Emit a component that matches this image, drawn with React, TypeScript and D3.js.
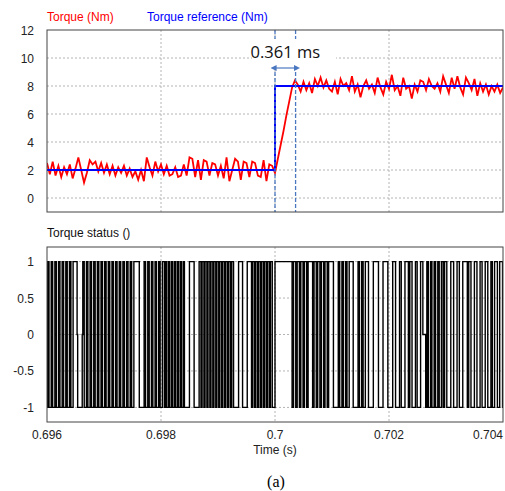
import React from 'react';
import * as d3 from 'd3';

const W = 505;
const H = 491;

// axes
const timeDomain = [0.696, 0.704];
const timeTicks = [0.696, 0.698, 0.7, 0.702, 0.704];
const timeGrid = [0.698, 0.7, 0.702];
const torqueDomain = [-1, 12];
const torqueTicks = [0, 2, 4, 6, 8, 10, 12];
const torqueGrid = [0, 2, 4, 6, 8, 10];
const statusDomain = [-1.2, 1.2];
const statusTicks = [-1, -0.5, 0, 0.5, 1];

// torque (Nm), sampled every 50 µs from 0.696 s
const torqueStartS = 0.696;
const torqueSampleUs = 50;
const torqueValues = [
  // 0.696 .. 0.69705
  2.5, 1.7, 2.6, 1.6, 2.3, 1.5, 2.2, 1.7, 2.4, 1.4, 2.1, 2.9, 2.0, 1.1, 1.8, 2.7, 2.4, 2.6, 1.9, 2.5, 1.8, 2.4,
  // 0.6971 .. 0.69795
  1.7, 2.3, 1.6, 2.2, 1.8, 2.3, 1.6, 2.1, 1.5, 1.9, 1.3, 2.0, 1.2, 2.9, 2.2, 1.6, 2.6, 1.9,
  // 0.698 .. 0.69895
  2.4, 1.7, 2.3, 1.6, 1.7, 2.2, 1.5, 1.6, 2.4, 1.6, 2.9, 2.8, 1.5, 2.7, 1.3, 2.7, 2.6, 1.6, 2.5, 2.4,
  // 0.699 .. 0.69995
  1.6, 2.3, 1.4, 2.9, 1.2, 2.0, 2.8, 2.6, 1.3, 2.6, 2.5, 1.5, 2.6, 2.5, 1.6, 1.5, 2.7, 1.2, 2.4, 2.3,
  // 0.7 .. 0.70035 (rise)
  1.8, 2.8, 3.8, 4.8, 5.9, 6.9, 7.9, 8.4,
  // 0.7004 .. 0.704
  8.1, 7.6, 8.3, 7.7, 8.2, 7.5, 8.5, 8.0, 8.6, 7.9,
  8.4, 7.8, 7.6, 8.3, 7.4, 8.5, 8.0, 8.2, 7.7, 8.7,
  7.6, 8.1, 7.2, 8.0, 8.4, 7.8, 8.1, 7.5, 8.6, 7.9,
  7.4, 8.3, 7.8, 8.8, 7.7, 8.0, 7.3, 8.6, 7.8, 8.0,
  7.1, 8.1, 7.6, 8.4, 8.3, 7.7, 8.5, 8.0, 7.8, 8.2,
  7.6, 8.7, 8.1, 7.5, 8.6, 7.8, 8.7, 7.9, 7.4, 8.6,
  8.2, 7.7, 8.5, 7.3, 8.2, 7.6, 8.1, 7.4, 8.0, 7.6,
  8.1, 7.5, 7.9,
];

// torque reference (Nm)
const refTimes = [0.696, 0.7, 0.7, 0.704];
const refValues = [2, 2, 8, 8];

// response-time annotation
const riseStart = 0.7;
const riseEnd = 0.700361;
const riseLabel = '0.361 ms';

// torque status: [level, duration µs], starting at 0.696 s
const statusSegments: [number, number][] = [
  [-1, 10],
  [1, 25], [-1, 39], [1, 25], [-1, 39], [1, 25], [-1, 39], [1, 25], [-1, 39], [1, 25], [-1, 39], [1, 25], [-1, 39], [1, 25], [-1, 39],
  [1, 70], [0, 10], [-1, 80], [0, 10],
  [1, 25], [-1, 39], [1, 25], [-1, 39], [1, 25], [-1, 39], [1, 25], [-1, 39], [1, 25], [-1, 39], [1, 25], [-1, 39], [1, 25], [-1, 39],
  [1, 25], [-1, 39], [1, 25], [-1, 39], [1, 25], [-1, 39], [1, 25], [-1, 39], [1, 25], [-1, 39], [1, 25], [-1, 39], [1, 25], [-1, 39],
  [1, 95], [-1, 85],
  [1, 25], [-1, 39], [1, 25], [-1, 39], [1, 25], [-1, 39], [1, 25], [-1, 39], [1, 25], [-1, 39],
  [1, 35], [-1, 20],
  [1, 20], [-1, 32], [1, 20], [-1, 32], [1, 20], [-1, 32], [1, 20], [-1, 32], [1, 20], [-1, 32], [1, 20], [-1, 32], [1, 20],
  [-1, 88], [1, 82], [-1, 88],
  [1, 32], [-1, 20], [1, 32], [-1, 20], [1, 32], [-1, 20], [1, 32], [-1, 20], [1, 32], [-1, 20], [1, 32], [-1, 20],
  [1, 32], [-1, 20], [1, 32], [-1, 20], [1, 32], [-1, 20], [1, 32], [-1, 20], [1, 32], [-1, 20], [1, 32],
  [-1, 88], [1, 70], [-1, 82], [1, 75],
  [-1, 20], [1, 32], [-1, 20], [1, 32], [-1, 20], [1, 32], [-1, 20], [1, 32], [-1, 20], [1, 32], [-1, 20], [1, 32], [-1, 20], [1, 32],
  [-1, 48],
  [1, 300],
  [-1, 25], [1, 39], [-1, 25], [1, 39], [-1, 25], [1, 39], [-1, 25], [1, 39], [-1, 25], [1, 79],
  [-1, 25], [1, 39], [-1, 25], [1, 39], [-1, 25], [1, 39], [-1, 25], [1, 39], [-1, 25], [1, 84],
  [-1, 85],
  [1, 25], [-1, 39], [1, 25], [-1, 39], [1, 25], [-1, 39],
  [1, 70], [-1, 85],
  [1, 25], [-1, 39], [1, 25], [-1, 39],
  [1, 55], [-1, 85], [1, 90], [-1, 80], [1, 85], [-1, 85], [1, 50], [-1, 70], [1, 30], [-1, 65], [1, 60],
  [-1, 25], [1, 39], [-1, 60], [1, 30], [-1, 60], [1, 40], [0, 50], [-1, 20],
  [1, 25], [-1, 39], [1, 25], [-1, 39], [1, 25], [-1, 39], [1, 25], [-1, 39],
  [1, 30], [-1, 25], [1, 39],
  [-1, 70], [1, 50], [-1, 60], [1, 40], [-1, 60], [1, 80], [-1, 25], [1, 39], [-1, 60], [1, 45], [-1, 55],
  [1, 35], [-1, 55], [1, 45], [-1, 55], [1, 25], [-1, 39], [1, 50], [-1, 40], [1, 50], [-1, 100],
];

const FONT = '"Liberation Sans", Arial, sans-serif';

export default function App() {
  const left = 47;
  const right = 503;
  const topT = 30;
  const botT = 212;
  const topS = 247;
  const botS = 422;

  const x = d3.scaleLinear().domain(timeDomain).range([left, right]);
  const yT = d3.scaleLinear().domain(torqueDomain).range([botT, topT]);
  const yS = d3.scaleLinear().domain(statusDomain).range([botS, topS]);

  const torquePts: [number, number][] = torqueValues.map((v, i) => [
    torqueStartS + (i * torqueSampleUs) / 1e6,
    v,
  ]);
  const torqueLine = d3
    .line<[number, number]>()
    .x((d) => x(d[0]))
    .y((d) => yT(d[1]));
  const refPts: [number, number][] = refTimes.map((t, i) => [t, refValues[i]]);

  const statusPts: [number, number][] = [];
  let tUs = 0;
  statusSegments.forEach(([lvl, dur]) => {
    statusPts.push([torqueStartS + tUs / 1e6, lvl]);
    tUs += dur;
  });
  statusPts.push([torqueStartS + tUs / 1e6, statusSegments[statusSegments.length - 1][0]]);
  const statusLine = d3
    .line<[number, number]>()
    .x((d) => x(d[0]))
    .y((d) => yS(d[1]))
    .curve(d3.curveStepAfter);

  const gridStyle = { stroke: '#b4b4b4', strokeWidth: 1, strokeDasharray: '2,2' };
  const annColor = '#4a78c0';
  const xa = x(riseStart);
  const xb = x(riseEnd);
  const arrowY = 68;

  return (
    <svg
      width={W}
      height={H}
      style={{ position: 'absolute', left: 0, top: 0, background: '#fff' }}
      fontFamily={FONT}
    >
      <defs>
        <clipPath id="clipT">
          <rect x={left} y={topT} width={right - left} height={botT - topT} />
        </clipPath>
        <clipPath id="clipS">
          <rect x={left} y={topS} width={right - left} height={botS - topS} />
        </clipPath>
        <marker id="arrL" viewBox="0 0 10 10" refX="1" refY="5" markerWidth="5" markerHeight="5" orient="auto-start-reverse">
          <path d="M0,0 L10,5 L0,10 z" fill={annColor} />
        </marker>
      </defs>
      <rect x={0} y={0} width={W} height={H} fill="#fff" />

      {/* legends / titles */}
      <text x={47} y={21} fontSize={12} fill="#ff0000">Torque (Nm)</text>
      <text x={147} y={21} fontSize={12} fill="#0000ff">Torque reference (Nm)</text>
      <text x={47} y={237} fontSize={12} fill="#111">Torque status ()</text>

      {/* top plot grid */}
      {torqueGrid.map((v) => (
        <line key={'tg' + v} x1={left} x2={right} y1={yT(v)} y2={yT(v)} {...gridStyle} />
      ))}
      {timeGrid.map((t) => (
        <line key={'vg' + t} x1={x(t)} x2={x(t)} y1={topT} y2={botT} {...gridStyle} />
      ))}
      {/* bottom plot grid */}
      {statusTicks.map((v) => (
        <line key={'sg' + v} x1={left} x2={right} y1={yS(v)} y2={yS(v)} {...gridStyle} />
      ))}
      {timeGrid.map((t) => (
        <line key={'vgs' + t} x1={x(t)} x2={x(t)} y1={topS} y2={botS} {...gridStyle} />
      ))}

      {/* top plot lines */}
      <g clipPath="url(#clipT)">
        <path d={torqueLine(torquePts) || ''} fill="none" stroke="#ff0000" strokeWidth={1.8} />
        <path d={torqueLine(refPts) || ''} fill="none" stroke="#0000ff" strokeWidth={2} />
      </g>

      {/* annotation */}
      <line x1={xa} x2={xa} y1={topT} y2={botT} stroke={annColor} strokeWidth={1.3} strokeDasharray="4,2" />
      <line x1={xb} x2={xb} y1={topT} y2={botT} stroke={annColor} strokeWidth={1.3} strokeDasharray="4,2" />
      <rect x={252} y={39} width={84} height={26} fill="#fff" />
      <text
        x={(xa + xb) / 2}
        y={58}
        fontSize={16.5}
        textAnchor="middle"
        fontFamily='"Open Sans", "Noto Sans", sans-serif'
        fill="#111"
      >
        {riseLabel}
      </text>
      <line
        x1={xa + 1}
        x2={xb - 1}
        y1={arrowY}
        y2={arrowY}
        stroke={annColor}
        strokeWidth={1.2}
        markerStart="url(#arrL)"
        markerEnd="url(#arrL)"
      />

      {/* bottom plot line */}
      <g clipPath="url(#clipS)">
        <path d={statusLine(statusPts) || ''} fill="none" stroke="#000" strokeWidth={1.4} />
      </g>

      {/* frames */}
      <rect x={left} y={topT} width={right - left} height={botT - topT} fill="none" stroke="#444" strokeWidth={1} />
      <rect x={left} y={topS} width={right - left} height={botS - topS} fill="none" stroke="#444" strokeWidth={1} />

      {/* y tick labels */}
      {torqueTicks.map((v) => (
        <text key={'tl' + v} x={34} y={yT(v) + 4.5} fontSize={12} textAnchor="end" fill="#222">
          {v}
        </text>
      ))}
      {statusTicks.map((v) => (
        <text key={'sl' + v} x={34} y={yS(v) + 4.5} fontSize={12} textAnchor="end" fill="#222">
          {v}
        </text>
      ))}

      {/* x tick labels */}
      {timeTicks.map((t, i) => (
        <text
          key={'xl' + t}
          x={x(t)}
          y={439}
          fontSize={12}
          textAnchor={i === timeTicks.length - 1 ? 'end' : 'middle'}
          fill="#222"
        >
          {t}
        </text>
      ))}
      <text x={x(0.7)} y={454} fontSize={12} textAnchor="middle" fill="#222">Time (s)</text>
      <text
        x={276}
        y={487}
        fontSize={16}
        textAnchor="middle"
        fontFamily='"Liberation Serif", "DejaVu Serif", serif'
        fill="#000"
      >
        (a)
      </text>
    </svg>
  );
}
